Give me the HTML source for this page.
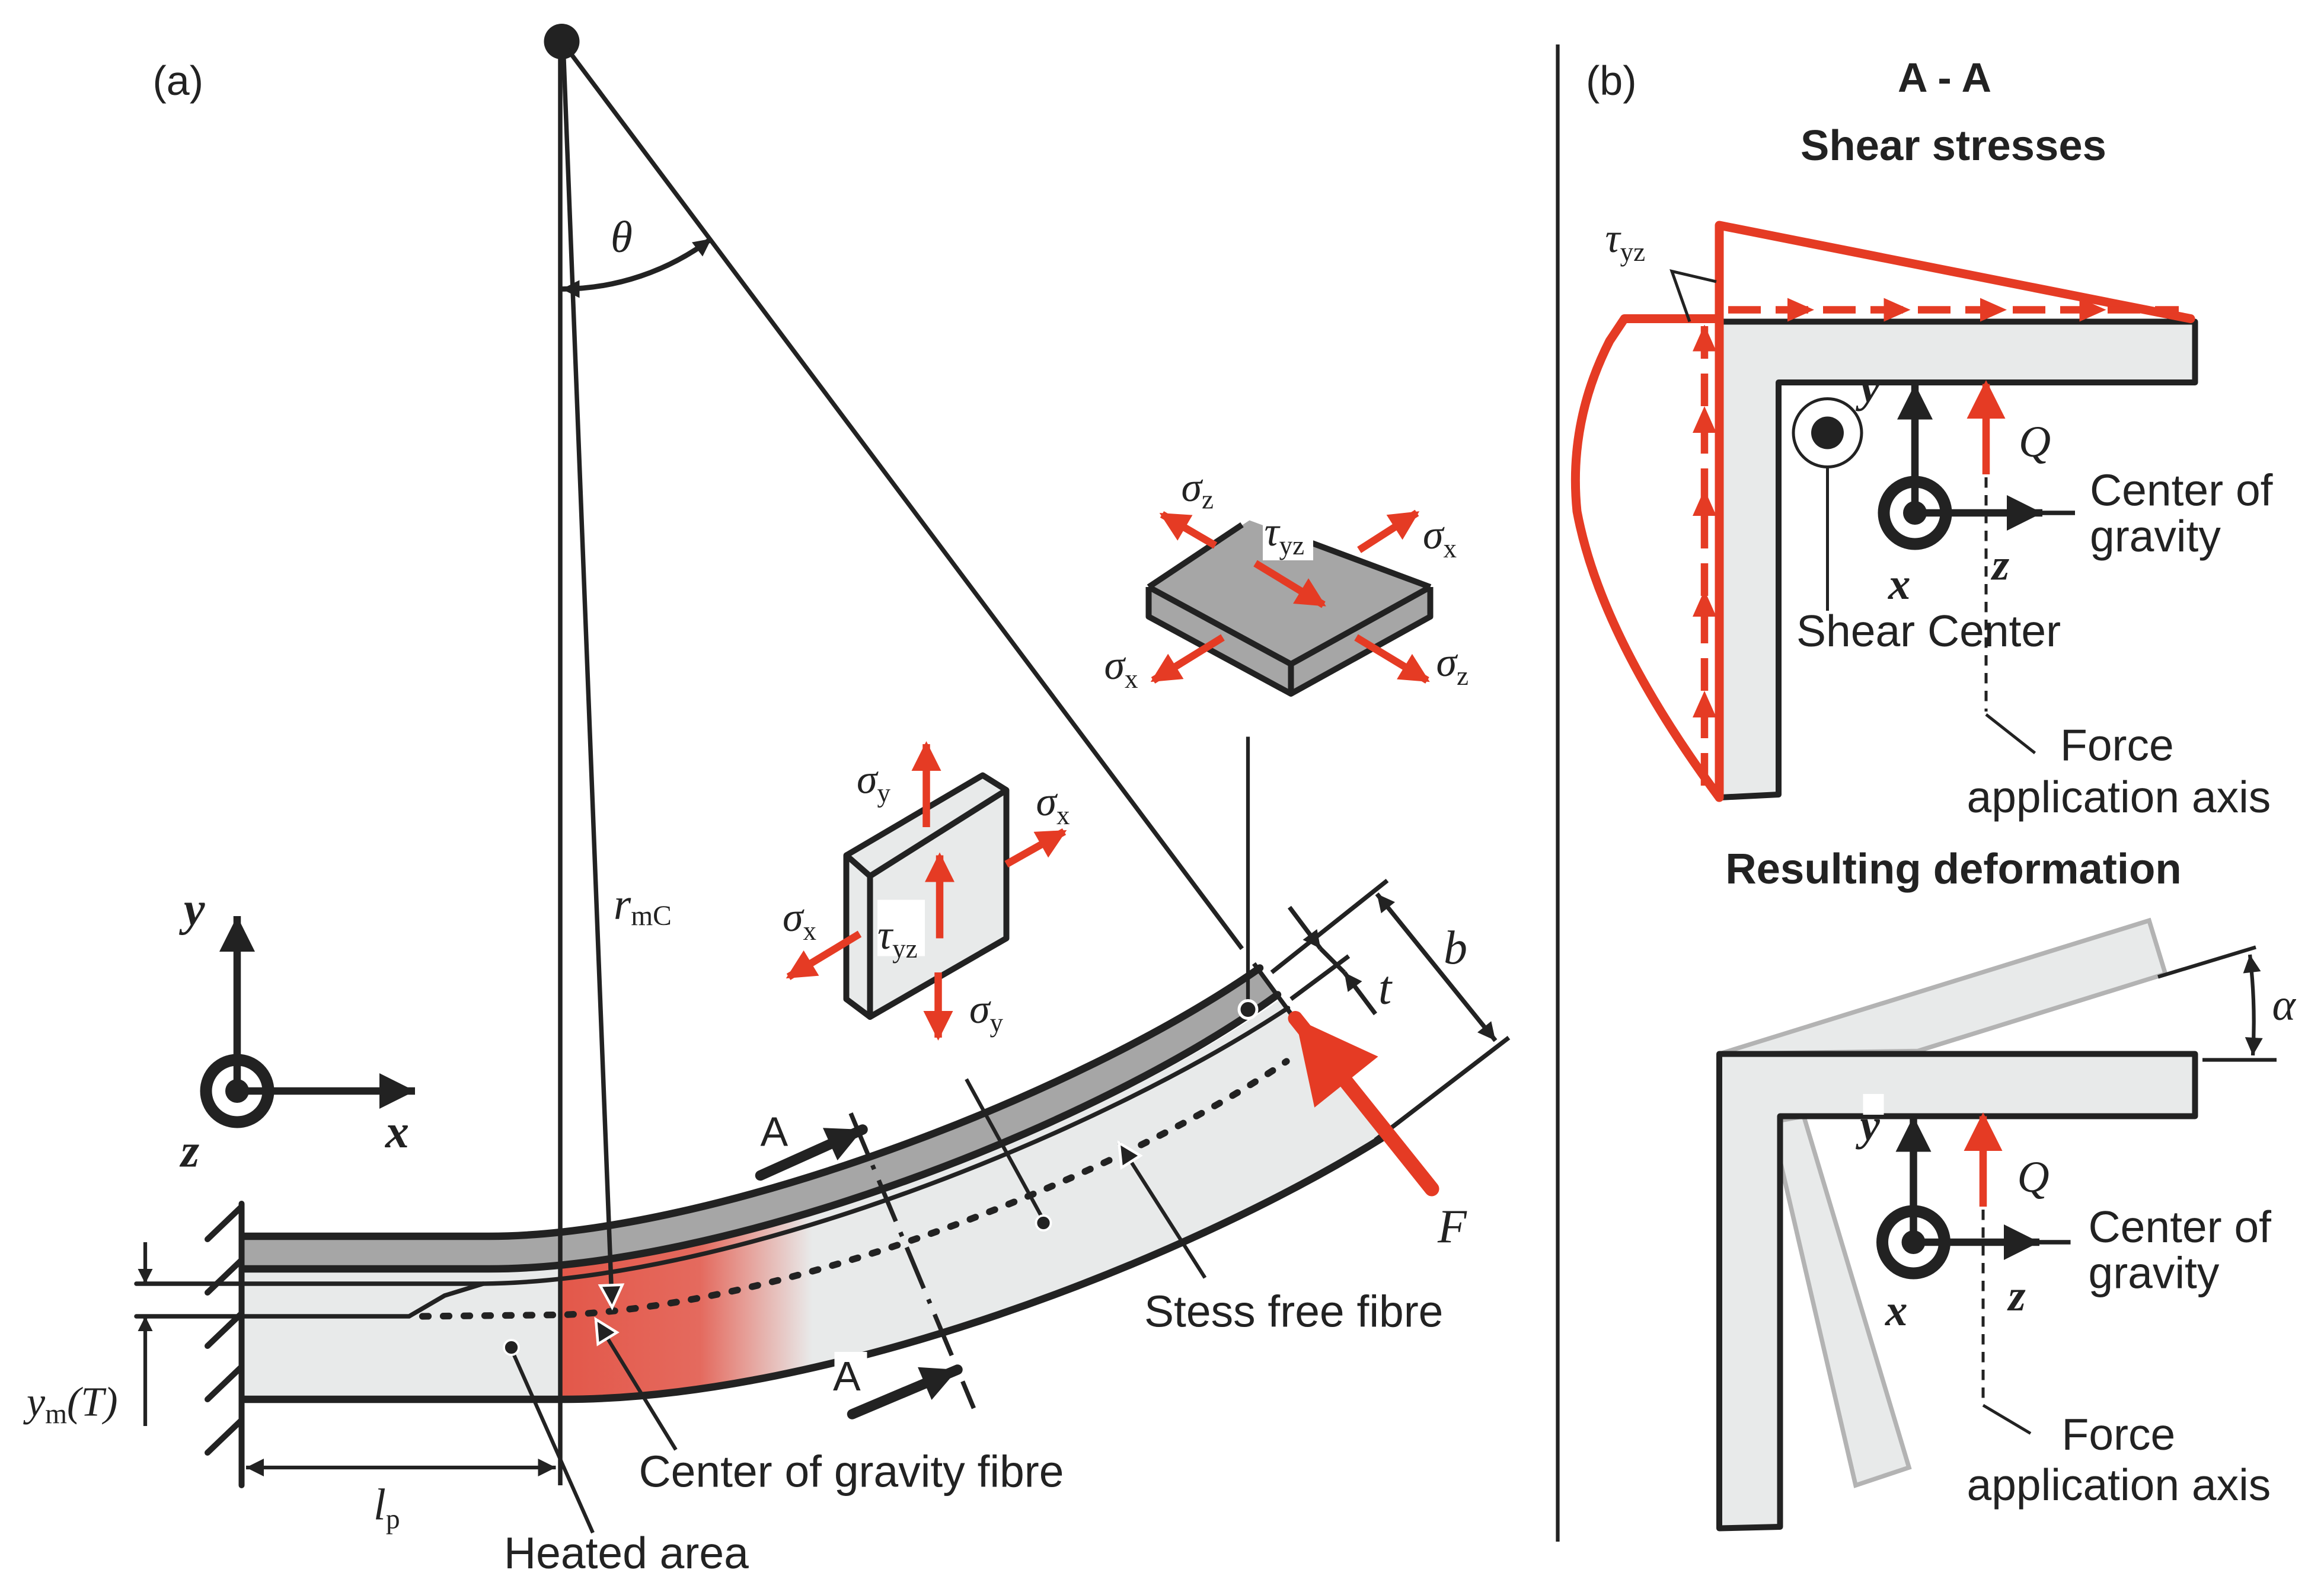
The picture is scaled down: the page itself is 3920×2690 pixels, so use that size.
<!DOCTYPE html>
<html><head><meta charset="utf-8"><style>
html,body{margin:0;padding:0;background:#fff;}
svg{display:block;}
.s{font-family:"Liberation Sans",sans-serif;fill:#222;}
.g{font-family:"Liberation Serif",serif;font-style:italic;fill:#222;}
.b{font-family:"Liberation Sans",sans-serif;font-weight:bold;fill:#222;}
</style></head><body>
<svg width="3920" height="2690" viewBox="0 0 1568 1076" xmlns="http://www.w3.org/2000/svg">
<defs>
<marker id="ab" viewBox="0 0 10 10" refX="10" refY="5" markerWidth="14" markerHeight="10" markerUnits="userSpaceOnUse" orient="auto-start-reverse"><path d="M0,0L10,5L0,10z" fill="#222"/></marker>
<marker id="abs" viewBox="0 0 10 10" refX="10" refY="5" markerWidth="20" markerHeight="12" markerUnits="userSpaceOnUse" orient="auto-start-reverse"><path d="M0,0L10,5L0,10z" fill="#222"/></marker>
<marker id="abw" viewBox="0 0 12 12" refX="11" refY="6" markerWidth="26" markerHeight="18" markerUnits="userSpaceOnUse" orient="auto"><path d="M1,1L11,6L1,11z" fill="#222" stroke="#fff" stroke-width="1.2"/></marker>
<marker id="abig" viewBox="0 0 10 10" refX="10" refY="5" markerWidth="26" markerHeight="24" markerUnits="userSpaceOnUse" orient="auto"><path d="M0,0L10,5L0,10z" fill="#222"/></marker>
<marker id="ar" viewBox="0 0 10 10" refX="9" refY="5" markerWidth="22" markerHeight="20" markerUnits="userSpaceOnUse" orient="auto"><path d="M0,0L10,5L0,10z" fill="#e53b24"/></marker>
<marker id="arb" viewBox="0 0 10 10" refX="9" refY="5" markerWidth="30" markerHeight="26" markerUnits="userSpaceOnUse" orient="auto"><path d="M0,0L10,5L0,10z" fill="#e53b24"/></marker>
<marker id="arF" viewBox="0 0 10 10" refX="10" refY="5" markerWidth="60" markerHeight="55" markerUnits="userSpaceOnUse" orient="auto"><path d="M0,0L10,5L0,10z" fill="#e53b24"/></marker>
<linearGradient id="heat" x1="380" y1="0" x2="548" y2="0" gradientUnits="userSpaceOnUse">
<stop offset="0" stop-color="#e3584a"/><stop offset="0.55" stop-color="#e46a5e"/><stop offset="1" stop-color="#e46a5e" stop-opacity="0"/></linearGradient>
<clipPath id="core"><path d="M165,857 L330,857 C490,857 740,762 864,674 L932,768 C800,852 560,944 380,944 L165,944 Z"/></clipPath>
</defs>

<!-- ===== (a) ===== -->
<text x="103" y="64" class="s" font-size="28">(a)</text>

<path d="M165,857 L330,857 C490,857 740,762 864,674 L932,768 C800,852 560,944 380,944 L165,944 Z" fill="#e8eaea"/>
<rect x="378" y="600" width="180" height="360" fill="url(#heat)" clip-path="url(#core)"/>
<path d="M165,834 L330,834 C480,834 727,739 850,653 L862,671 C740,758 490,856 330,856 L165,856 Z" fill="#a6a6a6"/>
<g fill="none" stroke="#222" stroke-linecap="round">
<path d="M165,834 L330,834 C480,834 727,739 850,653" stroke-width="5"/>
<path d="M165,856 L330,856 C490,856 740,760 862,671" stroke-width="5"/>
<path d="M92,866 L326,866 C500,864 745,762 869,680" stroke-width="3"/>
<path d="M92,888 L276,888 L300,874 L326,866" stroke-width="3"/>
<path d="M165,944 L380,944 C560,944 800,850 932,768" stroke-width="5"/>
<path d="M285,888 L380,887 C540,880 760,790 868,716" stroke-width="4.5" stroke-dasharray="4,10"/>
</g>
<g stroke="#222" stroke-width="4" stroke-linecap="round">
<line x1="163" y1="812" x2="163" y2="1002"/>
<line x1="140" y1="836" x2="163" y2="814"/>
<line x1="140" y1="872" x2="163" y2="850"/>
<line x1="140" y1="908" x2="163" y2="886"/>
<line x1="140" y1="944" x2="163" y2="922"/>
<line x1="140" y1="980" x2="163" y2="958"/>
</g>
<g stroke="#222" stroke-width="2.5">
<line x1="98" y1="838" x2="98" y2="866" marker-end="url(#ab)"/>
<line x1="98" y1="962" x2="98" y2="888" marker-end="url(#ab)"/>
</g>
<text x="18" y="955" class="g" font-size="28">y<tspan font-size="19" font-style="normal" dy="5">m</tspan><tspan dy="-5">(T)</tspan></text>
<line x1="378" y1="30" x2="378" y2="1002" stroke="#222" stroke-width="3"/>
<line x1="166" y1="990" x2="375" y2="990" stroke="#222" stroke-width="2.5" marker-start="url(#abs)" marker-end="url(#abs)"/>
<text x="252" y="1025" class="g" font-size="30">l<tspan font-size="19" font-style="normal" dy="6">p</tspan></text>

<circle cx="379" cy="28" r="12" fill="#222"/>
<line x1="380" y1="30" x2="413" y2="882" stroke="#222" stroke-width="3" marker-end="url(#abw)"/>
<line x1="382" y1="32" x2="838" y2="640" stroke="#222" stroke-width="3"/>
<line x1="846" y1="650" x2="874" y2="688" stroke="#222" stroke-width="3"/>
<path d="M379,195 A168,168 0 0 0 480,161" fill="none" stroke="#222" stroke-width="3.5" marker-start="url(#abs)" marker-end="url(#abs)"/>
<text x="412" y="170" class="g" font-size="30">θ</text>
<text x="414" y="620" class="g" font-size="30">r<tspan font-size="19" font-style="normal" dy="4">mC</tspan></text>

<g stroke="#222" fill="none">
<circle cx="160" cy="736" r="21" stroke-width="8"/>
<line x1="160" y1="736" x2="160" y2="618" stroke-width="5" marker-end="url(#abig)"/>
<line x1="160" y1="736" x2="280" y2="736" stroke-width="5" marker-end="url(#abig)"/>
</g>
<circle cx="160" cy="736" r="8" fill="#222"/>
<text x="124" y="624" class="g" font-size="32" font-weight="bold">y</text>
<text x="260" y="774" class="g" font-size="32" font-weight="bold">x</text>
<text x="122" y="787" class="g" font-size="32" font-weight="bold">z</text>

<g stroke="#222" stroke-width="3">
<line x1="858" y1="656" x2="936" y2="594"/>
<line x1="871" y1="674" x2="910" y2="645"/>
<line x1="1018" y1="700" x2="928" y2="769"/>
<line x1="929" y1="603" x2="1009" y2="702" marker-start="url(#abs)" marker-end="url(#abs)"/>
<line x1="870" y1="612" x2="891" y2="640" marker-end="url(#abs)"/>
<line x1="928" y1="684" x2="907" y2="656" marker-end="url(#abs)"/>
<line x1="891" y1="640" x2="907" y2="656"/>
</g>
<text x="930" y="677" class="g" font-size="32">t</text>
<text x="974" y="650" class="g" font-size="32">b</text>

<line x1="966" y1="802" x2="874" y2="687" stroke="#e53b24" stroke-width="10" stroke-linecap="round" marker-end="url(#arF)"/>
<text x="970" y="838" class="g" font-size="32">F</text>

<line x1="842" y1="497" x2="842" y2="680" stroke="#222" stroke-width="2.5"/>
<circle cx="842" cy="681" r="6" fill="#222" stroke="#fff" stroke-width="2"/>
<line x1="652" y1="728" x2="704" y2="823" stroke="#222" stroke-width="2.5"/>
<circle cx="704" cy="825" r="5" fill="#222" stroke="#fff" stroke-width="1.5"/>
<line x1="813" y1="862" x2="755" y2="771" stroke="#222" stroke-width="2.5" marker-end="url(#abw)"/>
<line x1="456" y1="978" x2="402" y2="890" stroke="#222" stroke-width="2.5" marker-end="url(#abw)"/>
<line x1="400" y1="1034" x2="345" y2="910" stroke="#222" stroke-width="2.5"/>
<circle cx="345" cy="909" r="5" fill="#222" stroke="#fff" stroke-width="1.5"/>

<line x1="574" y1="751" x2="657" y2="950" stroke="#222" stroke-width="3" stroke-dasharray="30,8,3,8"/>
<line x1="513" y1="793" x2="582" y2="762" stroke="#222" stroke-width="7" stroke-linecap="round" marker-end="url(#abig)"/>
<text x="513" y="773" class="s" font-size="28">A</text>
<rect x="563" y="912" width="22" height="28" fill="#fff"/>
<text x="562" y="938" class="s" font-size="28">A</text>
<line x1="575" y1="954" x2="646" y2="924" stroke="#222" stroke-width="7" stroke-linecap="round" marker-end="url(#abig)"/>

<text x="772" y="895" class="s" font-size="30">Stess free fibre</text>
<text x="431" y="1003" class="s" font-size="30">Center of gravity fibre</text>
<text x="340" y="1058" class="s" font-size="30">Heated area</text>

<!-- big slab -->
<path d="M775,396 L775,416 L871,468 L965,416 L965,396 L871,448 Z" fill="#a6a6a6"/>
<path d="M775,396 L843,351 L965,396 L871,448 Z" fill="#a6a6a6"/>
<g fill="none" stroke="#222" stroke-width="4" stroke-linejoin="round">
<path d="M775,396 L775,416 L871,468 L965,416 L965,396"/>
<path d="M775,396 L871,448 L965,396"/>
<path d="M871,448 L871,468"/>
<path d="M775,396 L838,354"/>
<path d="M860,357 L965,396"/>
</g>
<g stroke="#e53b24" stroke-width="5" fill="none">
<line x1="820" y1="368" x2="784" y2="347" marker-end="url(#ar)"/>
<line x1="917" y1="371" x2="956" y2="346" marker-end="url(#ar)"/>
<line x1="847" y1="380" x2="893" y2="408" marker-end="url(#ar)"/>
<line x1="825" y1="430" x2="778" y2="459" marker-end="url(#ar)"/>
<line x1="915" y1="430" x2="963" y2="459" marker-end="url(#ar)"/>
</g>
<text x="797" y="338" class="g" font-size="28">σ<tspan font-size="18" font-style="normal" dy="5">z</tspan></text>
<rect x="852" y="346" width="34" height="32" fill="#fff"/>
<text x="853" y="368" class="g" font-size="28">τ<tspan font-size="18" font-style="normal" dy="6">yz</tspan></text>
<text x="960" y="370" class="g" font-size="28">σ<tspan font-size="18" font-style="normal" dy="6">x</tspan></text>
<text x="745" y="458" class="g" font-size="28">σ<tspan font-size="18" font-style="normal" dy="6">x</tspan></text>
<text x="969" y="456" class="g" font-size="28">σ<tspan font-size="18" font-style="normal" dy="6">z</tspan></text>

<!-- small block -->
<path d="M571,577 L663,523 L679,533 L587,591 Z" fill="#e8eaea"/>
<path d="M571,577 L587,591 L587,686 L571,674 Z" fill="#e8eaea" stroke="#222" stroke-width="4" stroke-linejoin="round"/>
<path d="M587,591 L679,533 L679,633 L587,686 Z" fill="#e8eaea" stroke="#222" stroke-width="4" stroke-linejoin="round"/>
<path d="M571,577 L663,523 L679,533" fill="none" stroke="#222" stroke-width="4" stroke-linejoin="round"/>
<g stroke="#e53b24" stroke-width="5">
<line x1="625" y1="558" x2="625" y2="502" marker-end="url(#ar)"/>
<line x1="634" y1="633" x2="634" y2="577" marker-end="url(#ar)"/>
<line x1="633" y1="656" x2="633" y2="700" marker-end="url(#ar)"/>
<line x1="679" y1="583" x2="718" y2="561" marker-end="url(#ar)"/>
<line x1="580" y1="630" x2="532" y2="659" marker-end="url(#ar)"/>
</g>
<rect x="592" y="607" width="32" height="38" fill="#fff"/>
<text x="578" y="535" class="g" font-size="28">σ<tspan font-size="18" font-style="normal" dy="6">y</tspan></text>
<text x="699" y="550" class="g" font-size="28">σ<tspan font-size="18" font-style="normal" dy="6">x</tspan></text>
<text x="528" y="628" class="g" font-size="28">σ<tspan font-size="18" font-style="normal" dy="6">x</tspan></text>
<text x="592" y="640" class="g" font-size="28">τ<tspan font-size="18" font-style="normal" dy="6">yz</tspan></text>
<text x="654" y="690" class="g" font-size="28">σ<tspan font-size="18" font-style="normal" dy="6">y</tspan></text>

<line x1="1051" y1="30" x2="1051" y2="1040" stroke="#222" stroke-width="2.5"/>

<!-- ===== (b) ===== -->
<text x="1070" y="64" class="s" font-size="28">(b)</text>
<text x="1312" y="62" class="b" font-size="28" text-anchor="middle">A - A</text>
<text x="1318" y="108" class="b" font-size="29" text-anchor="middle">Shear stresses</text>
<text x="1318" y="596" class="b" font-size="29" text-anchor="middle">Resulting deformation</text>

<path d="M1160,217 L1481,217 L1481,258 L1200,258 L1200,536 L1160,538 Z" fill="#e8eaea" stroke="#222" stroke-width="4" stroke-linejoin="round"/>
<g stroke="#e53b24" stroke-width="6" fill="none" stroke-linejoin="round" stroke-linecap="round">
<path d="M1160,538 L1160,152 L1478,215"/>
<path d="M1160,215 L1096,215 L1086,230 Q1058,285 1064,345 Q1080,430 1160,538"/>
</g>
<g stroke="#e53b24" stroke-width="5" stroke-dasharray="22,10">
<line x1="1150" y1="530" x2="1150" y2="220"/>
<line x1="1166" y1="209" x2="1470" y2="209"/>
</g>
<g fill="#e53b24">
<path d="M1142,237 L1158,237 L1150,219Z"/><path d="M1142,292 L1158,292 L1150,274Z"/><path d="M1142,348 L1158,348 L1150,330Z"/><path d="M1142,416 L1158,416 L1150,398Z"/><path d="M1142,484 L1158,484 L1150,466Z"/>
<path d="M1206,201 L1206,217 L1224,209Z"/><path d="M1271,201 L1271,217 L1289,209Z"/><path d="M1336,201 L1336,217 L1354,209Z"/><path d="M1403,201 L1403,217 L1421,209Z"/>
</g>
<path d="M1158,190 L1128,183 L1140,217" fill="none" stroke="#222" stroke-width="2"/>
<text x="1083" y="170" class="g" font-size="28">τ<tspan font-size="18" font-style="normal" dy="6">yz</tspan></text>
<circle cx="1233" cy="292" r="23" fill="#fff" stroke="#222" stroke-width="2"/>
<circle cx="1233" cy="292" r="11" fill="#222"/>
<line x1="1233" y1="315" x2="1233" y2="412" stroke="#222" stroke-width="2"/>
<text x="1212" y="436" class="s" font-size="30">Shear Center</text>
<g stroke="#222" fill="none">
<circle cx="1292" cy="346" r="21" stroke-width="8"/>
<line x1="1292" y1="346" x2="1292" y2="259" stroke-width="5" marker-end="url(#abig)"/>
<line x1="1292" y1="346" x2="1400" y2="346" stroke-width="3"/>
<line x1="1292" y1="346" x2="1378" y2="346" stroke-width="5" marker-end="url(#abig)"/>
</g>
<circle cx="1292" cy="346" r="8" fill="#222"/>
<line x1="1340" y1="320" x2="1340" y2="259" stroke="#e53b24" stroke-width="5" marker-end="url(#arb)"/>
<line x1="1340" y1="322" x2="1340" y2="480" stroke="#222" stroke-width="2" stroke-dasharray="7,5"/>
<line x1="1340" y1="482" x2="1373" y2="508" stroke="#222" stroke-width="2"/>
<text x="1255" y="271" class="g" font-size="30" font-weight="bold">y</text>
<text x="1362" y="308" class="g" font-size="30">Q</text>
<text x="1274" y="404" class="g" font-size="30" font-weight="bold">x</text>
<text x="1344" y="391" class="g" font-size="30" font-weight="bold">z</text>
<text x="1410" y="341" class="s" font-size="30">Center of</text>
<text x="1410" y="372" class="s" font-size="30">gravity</text>
<text x="1390" y="513" class="s" font-size="30">Force</text>
<text x="1327" y="548" class="s" font-size="30">application axis</text>

<path d="M1160,711 L1450,621 L1461,657 L1294,709 Z" fill="#e8eaea" stroke="#b3b3b3" stroke-width="3"/>
<path d="M1195,757 L1217,753 L1288,990 L1252,1002 Z" fill="#e8eaea" stroke="#b3b3b3" stroke-width="3"/>
<path d="M1160,711 L1481,711 L1481,753 L1201,753 L1201,1030 L1160,1031 Z" fill="#e8eaea" stroke="#222" stroke-width="4" stroke-linejoin="round"/>
<g stroke="#222" stroke-width="2.5">
<line x1="1456" y1="659" x2="1522" y2="639"/>
<line x1="1486" y1="715" x2="1536" y2="715"/>
<path d="M1518,644 Q1522,678 1520,712" fill="none" marker-start="url(#abs)" marker-end="url(#abs)"/>
</g>
<text x="1533" y="688" class="g" font-size="30">α</text>
<g stroke="#222" fill="none">
<circle cx="1291" cy="838" r="21" stroke-width="8"/>
<line x1="1291" y1="838" x2="1291" y2="753" stroke-width="5" marker-end="url(#abig)"/>
<line x1="1291" y1="838" x2="1397" y2="838" stroke-width="3"/>
<line x1="1291" y1="838" x2="1376" y2="838" stroke-width="5" marker-end="url(#abig)"/>
</g>
<circle cx="1291" cy="838" r="8" fill="#222"/>
<line x1="1338" y1="814" x2="1338" y2="753" stroke="#e53b24" stroke-width="5" marker-end="url(#arb)"/>
<line x1="1338" y1="816" x2="1338" y2="946" stroke="#222" stroke-width="2" stroke-dasharray="7,5"/>
<line x1="1338" y1="948" x2="1370" y2="967" stroke="#222" stroke-width="2"/>
<rect x="1257" y="738" width="14" height="14" fill="#fff"/>
<text x="1255" y="769" class="g" font-size="30" font-weight="bold">y</text>
<text x="1361" y="804" class="g" font-size="30">Q</text>
<text x="1272" y="894" class="g" font-size="30" font-weight="bold">x</text>
<text x="1355" y="884" class="g" font-size="30" font-weight="bold">z</text>
<text x="1409" y="838" class="s" font-size="30">Center of</text>
<text x="1409" y="869" class="s" font-size="30">gravity</text>
<text x="1391" y="978" class="s" font-size="30">Force</text>
<text x="1327" y="1012" class="s" font-size="30">application axis</text>
</svg>
</body></html>
